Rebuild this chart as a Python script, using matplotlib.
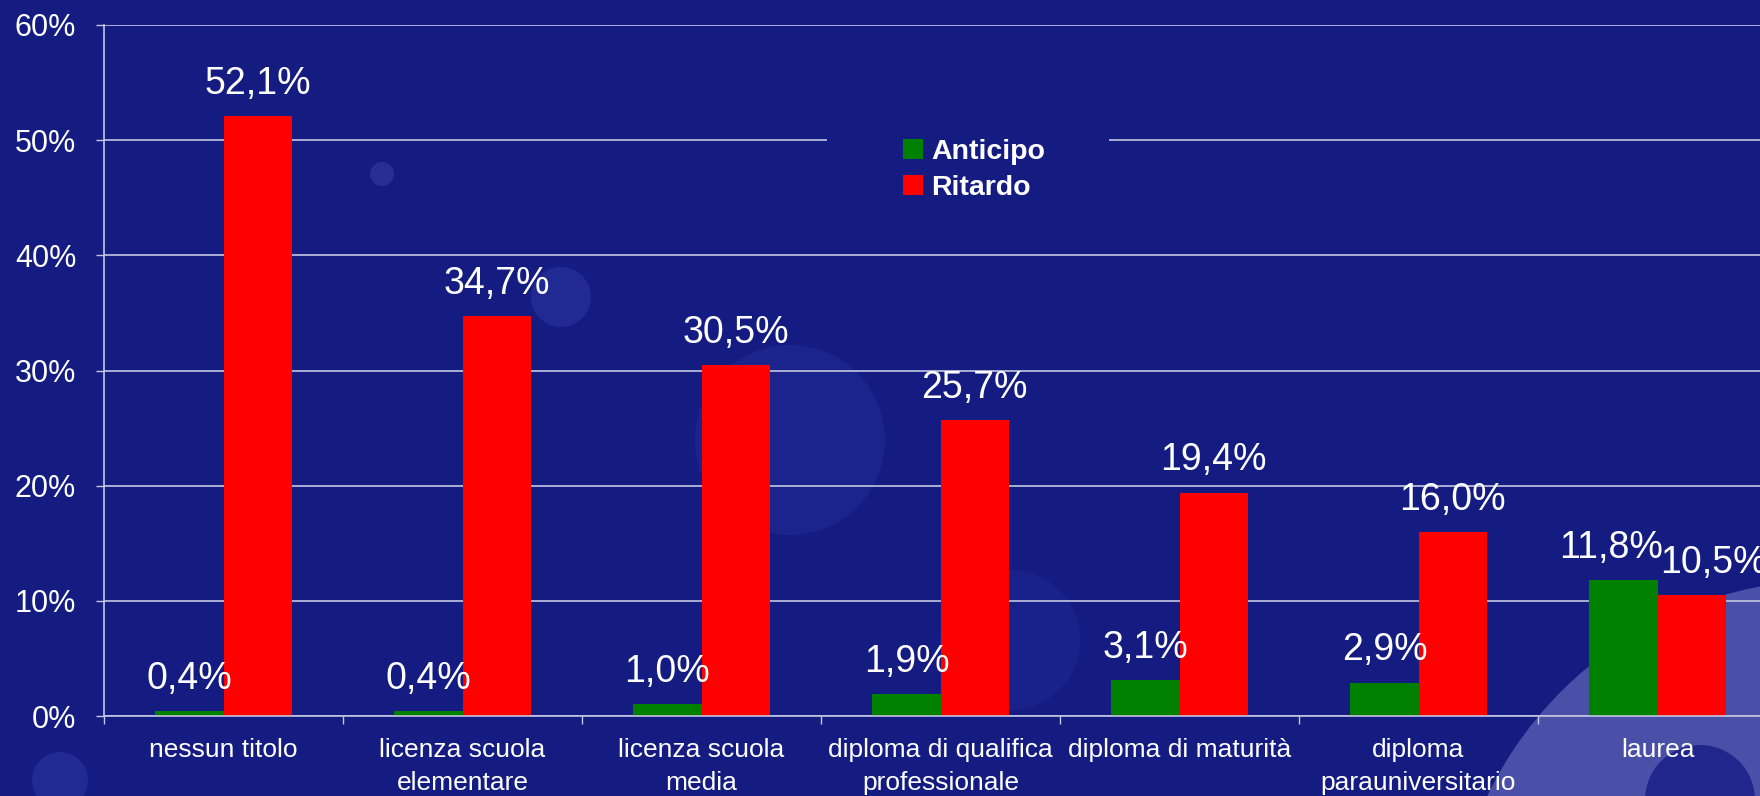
import numpy as np
import matplotlib
matplotlib.use('Agg')
import matplotlib.pyplot as plt
from matplotlib.patches import Circle, Rectangle

# data
categories = ['nessun titolo', 'licenza scuola\nelementare', 'licenza scuola\nmedia',
              'diploma di qualifica\nprofessionale', 'diploma di maturità',
              'diploma\nparauniversitario', 'laurea']
anticipo = [0.4, 0.4, 1.0, 1.9, 3.1, 2.9, 11.8]
ritardo = [52.1, 34.7, 30.5, 25.7, 19.4, 16.0, 10.5]
series_names = ['Anticipo', 'Ritardo']
yticks = [0, 10, 20, 30, 40, 50, 60]

bg = '#141c82'
green = '#008000'
red = '#ff0000'
grid_col = '#c4c6e2'

plt.rcParams['font.family'] = ['Liberation Sans', 'DejaVu Sans']

fig = plt.figure(figsize=(17.6, 7.96), dpi=100, facecolor=bg)

# faint background decorations (inches, from top-left pixel positions)
def blob(x, y, r, color, alpha):
    fig.patches.append(Circle((x / 100, (796 - y) / 100), r / 100, transform=fig.dpi_scale_trans,
                              facecolor=color, edgecolor='none', alpha=alpha, zorder=-5))

blob(382, 174, 12, '#3a42a8', 0.5)
blob(561, 297, 30, '#2a33a0', 0.6)
blob(790, 440, 95, '#1f2892', 0.7)
blob(60, 780, 28, '#2a33a0', 0.6)
blob(1010, 640, 70, '#1c2490', 0.7)
blob(1830, 960, 380, '#4a50a8', 1.0)
blob(1700, 800, 55, '#1c2288', 0.9)

ax = fig.add_axes([104 / 1760, 80 / 796, 7 * 239 / 1760, 691 / 796])
ax.set_facecolor('none')

x = np.arange(len(categories))
w = 0.285
b1 = ax.bar(x - w / 2, anticipo, w, color=green, label=series_names[0], zorder=3)
b2 = ax.bar(x + w / 2, ritardo, w, color=red, label=series_names[1], zorder=3)

for i, (bars, vals) in enumerate([(b1, anticipo), (b2, ritardo)]):
    for j, (rect, v) in enumerate(zip(bars, vals)):
        dx = 0
        if j == len(vals) - 1:
            dx = -9 if i == 0 else 16
        ax.annotate(f'{v:.1f}%'.replace('.', ','),
                    (rect.get_x() + rect.get_width() / 2, v),
                    xytext=(dx, 16), textcoords='offset points',
                    ha='center', va='baseline', color='white', fontsize=27,
                    zorder=4, annotation_clip=False)

ax.set_xlim(-0.5, len(categories) - 0.5)
ax.set_ylim(0, 60)
ax.set_yticks(yticks)
ax.set_yticklabels([f'{t}%' for t in yticks])
ax.set_xticks(x)
ax.set_xticklabels(categories)
ax.set_xticks(np.arange(len(categories) + 1) - 0.5, minor=True)
ax.tick_params(axis='x', which='major', length=0, pad=16, labelsize=19, labelcolor='white')
ax.tick_params(axis='x', which='minor', length=6, width=1, color=grid_col, direction='out')
ax.tick_params(axis='y', length=6, width=1, color=grid_col, pad=14, labelsize=22, labelcolor='white')
for t in ax.get_xticklabels():
    t.set_linespacing(1.45)

ax.yaxis.grid(True, color=grid_col, linewidth=1.2, zorder=0)
ax.set_axisbelow(True)
for s in ['top', 'right']:
    ax.spines[s].set_visible(False)
for s in ['left', 'bottom']:
    ax.spines[s].set_color(grid_col)
    ax.spines[s].set_linewidth(1.2)
    ax.spines[s].set_zorder(3.5)

# legend box covering part of the 50% gridline
fig.patches.append(Rectangle((827 / 1760, (796 - 215) / 796), 282 / 1760, 90 / 796,
                             transform=fig.transFigure, facecolor=bg, edgecolor='none', zorder=2))
leg = fig.legend(handles=[b1, b2], loc='upper left', bbox_to_anchor=(903 / 1760, (796 - 139) / 796),
                 frameon=False, borderpad=0, borderaxespad=0, handlelength=0.7, handleheight=0.7,
                 handletextpad=0.3, labelspacing=0.35,
                 prop={'size': 20.5, 'weight': 'bold'})
leg.set_zorder(5)
for t in leg.get_texts():
    t.set_color('white')

fig.savefig('out.png', dpi=100, facecolor=bg)
